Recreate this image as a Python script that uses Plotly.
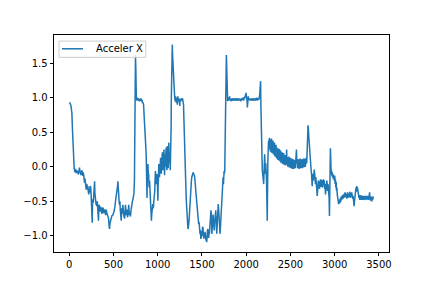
import plotly.graph_objects as go

# ---- data (sample index -> acceleration X) ----
x_start = [0, 10, 20, 30, 38, 44, 51, 56, 61, 66, 71, 79, 84, 89, 97, 102, 106, 111, 116, 121, 127, 132, 136, 141, 145, 150, 154, 158, 162, 168, 173, 178, 182, 187, 192, 197, 202, 206, 211, 216, 221, 226, 230, 236, 243, 248, 253, 257, 260, 263, 265, 269, 273, 278, 282, 287, 290, 294, 298, 301, 304, 308, 312, 317, 322, 327, 331, 334, 337, 342, 347, 352, 357, 362, 368, 375, 380, 385, 390, 395, 400, 405, 411, 418, 424, 430, 437, 445, 450, 456, 460, 464, 470, 475, 480, 484, 489, 493, 498, 503, 508, 512, 517, 521, 526, 532, 537, 542, 546, 550, 553, 556, 561, 565, 569, 573, 577, 582, 588, 592, 597, 601, 606, 611, 616, 621, 626, 631, 636, 641, 645, 650, 654, 659, 663, 668, 673, 677, 682, 687, 692, 697, 702, 706, 709, 714, 720, 725, 731]
y_start = [0.93, 0.92, 0.88, 0.78, 0.50, 0.20, 0.03, -0.02, -0.05, -0.08, -0.03, -0.09, -0.05, -0.07, -0.06, -0.11, -0.10, -0.06, -0.01, -0.07, -0.08, -0.12, -0.09, -0.05, -0.06, -0.11, -0.13, -0.08, -0.10, -0.18, -0.23, -0.17, -0.20, -0.27, -0.33, -0.25, -0.27, -0.33, -0.28, -0.36, -0.40, -0.32, -0.37, -0.28, -0.30, -0.42, -0.55, -0.70, -0.81, -0.55, -0.47, -0.52, -0.50, -0.35, -0.25, -0.21, -0.38, -0.45, -0.50, -0.45, -0.55, -0.52, -0.57, -0.50, -0.60, -0.70, -0.78, -0.62, -0.55, -0.57, -0.65, -0.62, -0.58, -0.60, -0.68, -0.66, -0.60, -0.60, -0.67, -0.65, -0.62, -0.63, -0.70, -0.62, -0.66, -0.70, -0.72, -0.75, -0.85, -0.90, -0.82, -0.80, -0.75, -0.73, -0.72, -0.70, -0.71, -0.68, -0.69, -0.66, -0.64, -0.62, -0.57, -0.52, -0.48, -0.42, -0.40, -0.35, -0.28, -0.21, -0.32, -0.40, -0.47, -0.52, -0.55, -0.50, -0.62, -0.70, -0.78, -0.62, -0.60, -0.68, -0.55, -0.62, -0.70, -0.72, -0.75, -0.65, -0.55, -0.65, -0.70, -0.62, -0.65, -0.73, -0.70, -0.62, -0.55, -0.66, -0.70, -0.65, -0.72, -0.64, -0.58, -0.62, -0.55, -0.50, -0.47, -0.42, -0.39]

x_peaks1 = [737, 741, 745, 749, 753, 758, 762, 766, 771, 775, 780, 785, 790, 795, 800, 805, 810, 815, 820, 824, 828, 832, 835, 840, 844, 848, 852, 855, 858, 861, 864, 867, 869, 871, 874, 876, 879, 881, 883, 886, 889, 892, 895, 898, 901, 904, 908, 912, 916, 920, 923, 926, 929, 933, 936, 940, 945, 948, 952, 956, 962, 965, 967, 970, 974, 977, 980, 984, 987, 991, 995, 998, 1002, 1005, 1008, 1010, 1012, 1016, 1020, 1023, 1025, 1029, 1033, 1037, 1041, 1045, 1048, 1051, 1053, 1056, 1058, 1062, 1065, 1068, 1071, 1074, 1078, 1081, 1083, 1087, 1090, 1093, 1096, 1100, 1104, 1107, 1109, 1112, 1114, 1117, 1119, 1123, 1126, 1129, 1132, 1136, 1139, 1142, 1146, 1149]
y_peaks1 = [-0.20, 0.40, 1.20, 1.62, 1.40, 1.02, 0.96, 0.99, 1.00, 0.96, 0.97, 0.99, 0.98, 0.95, 0.96, 0.99, 0.99, 0.96, 0.95, 0.97, 0.92, 0.94, 0.93, 0.90, 0.82, 0.75, 0.65, 0.61, 0.50, 0.45, 0.38, 0.33, 0.20, 0.10, -0.05, -0.20, -0.45, -0.25, -0.10, 0.02, 0.04, -0.05, -0.15, -0.10, -0.25, -0.30, -0.20, -0.35, -0.50, -0.55, -0.63, -0.70, -0.78, -0.68, -0.65, -0.60, -0.54, -0.60, -0.58, -0.50, -0.40, -0.45, -0.35, -0.20, -0.06, -0.15, -0.25, -0.12, -0.10, -0.18, -0.11, -0.30, -0.49, -0.25, -0.20, -0.05, 0.04, -0.10, -0.15, -0.02, -0.05, 0.08, 0.13, -0.02, -0.10, 0.05, 0.15, 0.05, 0.21, 0.00, -0.05, 0.12, 0.10, 0.20, 0.25, 0.05, -0.12, 0.10, 0.18, 0.02, 0.00, 0.22, 0.28, 0.05, -0.05, 0.15, 0.30, 0.12, 0.10, -0.02, 0.00, 0.25, 0.35, 0.10, 0.05, 0.20, 0.15, -0.05, 0.10, 0.20]

x_peaks2 = [1152, 1154, 1157, 1159, 1162, 1165, 1168, 1171, 1174, 1177, 1181, 1185, 1188, 1190, 1194, 1197, 1201, 1205, 1208, 1210, 1213, 1215, 1219, 1222, 1225, 1228, 1232, 1235, 1239, 1243, 1247, 1250, 1253, 1255, 1259, 1262, 1266, 1269, 1272, 1276, 1280, 1284, 1288, 1292, 1296, 1299, 1302, 1306, 1310, 1314, 1318, 1322, 1326, 1330, 1334, 1338, 1342, 1346, 1350, 1354, 1358, 1362, 1366, 1370, 1375, 1380, 1385, 1390, 1396, 1402, 1408, 1413, 1418, 1423, 1428, 1433, 1438, 1443, 1448, 1453, 1458, 1463, 1468, 1473, 1478, 1483, 1487, 1491, 1493, 1497, 1502, 1506, 1511, 1515, 1519, 1523, 1527, 1531, 1535, 1539, 1543, 1546, 1550, 1554, 1558, 1562, 1566, 1568, 1572, 1576, 1580, 1584, 1587, 1591, 1595, 1598, 1602, 1606, 1609, 1612, 1615, 1618, 1622, 1626, 1629, 1632, 1636, 1640, 1644, 1648, 1652, 1656, 1660, 1664, 1668, 1672, 1676, 1680, 1684, 1688, 1692, 1696, 1700, 1704, 1708, 1712, 1716, 1720, 1724, 1727, 1731, 1735, 1739, 1743, 1747, 1750, 1754, 1758]
y_peaks2 = [0.60, 1.00, 1.30, 1.58, 1.70, 1.77, 1.62, 1.50, 1.40, 1.29, 1.20, 1.15, 1.05, 1.05, 0.98, 0.95, 1.02, 1.00, 0.94, 0.93, 1.00, 0.98, 0.95, 0.90, 0.97, 1.02, 0.96, 0.95, 0.99, 0.97, 0.93, 0.88, 0.97, 0.98, 0.95, 0.95, 0.99, 0.97, 0.96, 0.98, 0.99, 0.96, 0.98, 0.90, 0.70, 0.50, 0.33, 0.15, 0.00, -0.15, -0.30, -0.45, -0.55, -0.70, -0.80, -0.87, -0.90, -0.88, -0.85, -0.78, -0.70, -0.58, -0.50, -0.39, -0.30, -0.22, -0.15, -0.12, -0.10, -0.08, -0.11, -0.12, -0.15, -0.20, -0.30, -0.39, -0.48, -0.55, -0.63, -0.70, -0.75, -0.83, -0.80, -0.90, -0.97, -0.92, -1.04, -0.95, -1.02, -0.93, -1.00, -0.88, -0.87, -0.95, -0.98, -1.04, -0.96, -1.02, -0.94, -1.00, -1.05, -1.07, -1.00, -1.09, -1.02, -0.92, -0.96, -0.90, -0.98, -1.03, -0.95, -0.97, -0.92, -0.85, -0.75, -0.70, -0.63, -0.68, -0.80, -0.97, -0.90, -0.85, -0.78, -0.69, -0.75, -0.82, -0.88, -0.92, -0.80, -0.72, -0.65, -0.63, -0.75, -0.88, -0.97, -0.85, -0.70, -0.60, -0.54, -0.60, -0.75, -0.85, -0.92, -0.97, -0.90, -0.80, -0.73, -0.65, -0.50, -0.30, -0.35, -0.20, -0.15, -0.25, -0.12, -0.06, -0.10, -0.05]

x_plateau = [1762, 1766, 1769, 1772, 1776, 1779, 1783, 1787, 1790, 1794, 1798, 1803, 1808, 1813, 1818, 1823, 1828, 1833, 1838, 1843, 1848, 1853, 1858, 1863, 1868, 1873, 1878, 1883, 1888, 1893, 1898, 1903, 1908, 1913, 1918, 1923, 1928, 1933, 1938, 1943, 1948, 1953, 1958, 1963, 1968, 1973, 1978, 1983, 1988, 1993, 1998, 2002, 2006, 2010, 2013, 2016, 2020, 2024, 2028, 2033, 2038, 2043, 2048, 2053, 2058, 2063, 2068, 2073, 2078, 2083, 2088, 2093, 2098, 2103, 2108, 2113, 2118, 2123, 2128, 2133, 2138, 2143, 2148, 2153, 2158, 2163]
y_plateau = [0.30, 0.70, 0.95, 1.30, 1.62, 1.50, 1.29, 1.05, 0.95, 0.98, 1.00, 0.96, 0.99, 1.02, 0.97, 0.98, 0.95, 0.97, 0.99, 0.96, 0.98, 0.97, 0.99, 0.96, 0.98, 0.97, 0.99, 0.96, 0.98, 0.97, 0.99, 0.96, 0.98, 0.97, 0.99, 0.96, 0.98, 0.97, 0.95, 0.99, 0.96, 0.98, 0.97, 1.00, 0.98, 0.96, 1.01, 0.99, 1.03, 1.02, 1.07, 1.04, 1.00, 0.95, 0.86, 0.96, 1.00, 1.02, 0.98, 0.97, 0.99, 0.96, 0.98, 0.97, 0.99, 0.96, 0.98, 0.97, 0.99, 0.96, 0.98, 0.97, 0.99, 0.96, 0.98, 0.97, 1.00, 0.96, 0.98, 0.97, 0.99, 0.97, 1.00, 1.05, 1.15, 1.24]

x_drop = [2166, 2170, 2174, 2178, 2182, 2186, 2190, 2194, 2198, 2202, 2206, 2209, 2213, 2217, 2221, 2226, 2230, 2234, 2238, 2241, 2245]
y_drop = [0.90, 0.52, 0.30, 0.10, -0.05, -0.10, -0.15, -0.22, -0.25, -0.05, 0.10, 0.18, 0.00, -0.10, 0.05, -0.05, -0.20, -0.50, -0.78, -0.40, 0.10]

x_band = [2249, 2253, 2258, 2262, 2266, 2270, 2274, 2278, 2282, 2286,
          2290, 2294, 2298, 2303, 2307, 2311, 2315, 2320, 2324, 2328,
          2333, 2337, 2342, 2346, 2350, 2355, 2359, 2363, 2368, 2372,
          2376, 2380, 2384, 2389, 2393, 2397, 2402, 2406, 2410, 2414,
          2418, 2423, 2427, 2431, 2436, 2440, 2444, 2448, 2453, 2457,
          2461, 2466, 2470, 2474, 2478, 2483, 2487, 2492, 2496, 2500,
          2505, 2509, 2513, 2517, 2522, 2526, 2530, 2535, 2539, 2543,
          2547, 2552, 2556, 2560, 2564, 2568, 2572, 2577, 2581, 2585,
          2590, 2594, 2598, 2602, 2607, 2611, 2615, 2620, 2624, 2628,
          2633, 2637, 2641, 2645, 2650, 2654, 2658, 2662, 2667, 2671,
          2675, 2680, 2684]
y_band = [0.20, 0.38, 0.25, 0.42, 0.30, 0.40, 0.22, 0.38, 0.28, 0.41,
          0.20, 0.36, 0.24, 0.38, 0.18, 0.33, 0.22, 0.35, 0.15, 0.30,
          0.20, 0.32, 0.12, 0.28, 0.18, 0.27, 0.10, 0.25, 0.14, 0.26,
          0.08, 0.22, 0.12, 0.24, 0.06, 0.20, 0.10, 0.21, 0.04, 0.18,
          0.08, 0.20, 0.03, 0.16, 0.06, 0.17, 0.02, 0.15, 0.05, 0.25,
          0.03, 0.14, 0.00, 0.13, 0.04, 0.15, -0.01, 0.12, 0.03, 0.13,
          -0.02, 0.10, 0.01, 0.12, -0.03, 0.10, 0.00, 0.11, -0.03, 0.09,
          0.01, 0.10, -0.02, 0.08, 0.15, 0.25, 0.05, 0.11, -0.02, 0.09,
          0.00, 0.11, -0.03, 0.09, 0.01, 0.12, -0.02, 0.10, 0.00, 0.11,
          -0.02, 0.09, 0.01, 0.12, -0.01, 0.10, 0.02, 0.12, 0.00, 0.11,
          0.03, 0.13, 0.05]

x_tail2 = [2688, 2692, 2696, 2699, 2703, 2707, 2711, 2715, 2718, 2722, 2726, 2730, 2734, 2738, 2742, 2746, 2750, 2754, 2758, 2762, 2766, 2770, 2775, 2779, 2783, 2787, 2791, 2795, 2799, 2803, 2807, 2811, 2815, 2819, 2823, 2828, 2832, 2836, 2840, 2845, 2849, 2853, 2857, 2862, 2866, 2870, 2874, 2879, 2883, 2887, 2891, 2896, 2900, 2904, 2908, 2912, 2917, 2921, 2925, 2929, 2933, 2937, 2941, 2944, 2948, 2952, 2956, 2960, 2964, 2968, 2972, 2976, 2980, 2984, 2988, 2993, 2997, 3001, 3005, 3009, 3013, 3017, 3021, 3025, 3029, 3033, 3037]
y_tail2 = [0.15, 0.35, 0.50, 0.60, 0.55, 0.45, 0.35, 0.30, 0.35, 0.20, 0.10, 0.06, -0.05, -0.10, -0.20, -0.28, -0.15, -0.10, -0.20, -0.05, -0.15, -0.04, -0.12, -0.22, -0.25, -0.15, -0.30, -0.25, -0.35, -0.42, -0.30, -0.25, -0.20, -0.30, -0.21, -0.32, -0.20, -0.28, -0.18, -0.29, -0.20, -0.27, -0.19, -0.30, -0.21, -0.28, -0.18, -0.27, -0.20, -0.32, -0.25, -0.40, -0.30, -0.22, -0.29, -0.20, -0.30, -0.35, -0.25, -0.30, -0.37, -0.45, -0.71, -0.40, 0.05, 0.27, 0.10, -0.10, -0.05, -0.13, -0.08, -0.15, -0.10, -0.18, -0.12, -0.15, -0.20, -0.13, -0.25, -0.18, -0.30, -0.22, -0.35, -0.30, -0.40, -0.45, -0.52]

x_end = [3041, 3045, 3049, 3053, 3058, 3062, 3066, 3070, 3074, 3078, 3082, 3087, 3091, 3095, 3099, 3103, 3108, 3112, 3116, 3120, 3124, 3129, 3133, 3137, 3141, 3145, 3150, 3154, 3158, 3162, 3166, 3171, 3175, 3179, 3183, 3187, 3192, 3196, 3200, 3204, 3208, 3212, 3216, 3220, 3224, 3228, 3233, 3237, 3241, 3245, 3249, 3254, 3258, 3262, 3266, 3270, 3274, 3278, 3283, 3287, 3291, 3295, 3299, 3304, 3308, 3312, 3316, 3320, 3325, 3329, 3333, 3337, 3341, 3346, 3350, 3354, 3358, 3362, 3367, 3371, 3375, 3379, 3383, 3387, 3391, 3395, 3399, 3404, 3408, 3412, 3416, 3420, 3424, 3428, 3432, 3437]
y_end = [-0.48, -0.54, -0.50, -0.53, -0.47, -0.52, -0.45, -0.50, -0.43, -0.48, -0.42, -0.47, -0.41, -0.46, -0.40, -0.45, -0.39, -0.44, -0.37, -0.43, -0.38, -0.44, -0.39, -0.46, -0.40, -0.37, -0.45, -0.39, -0.44, -0.37, -0.43, -0.36, -0.42, -0.45, -0.38, -0.43, -0.37, -0.44, -0.39, -0.46, -0.42, -0.48, -0.52, -0.57, -0.50, -0.45, -0.38, -0.33, -0.30, -0.36, -0.28, -0.34, -0.30, -0.37, -0.33, -0.41, -0.45, -0.41, -0.48, -0.42, -0.47, -0.41, -0.48, -0.42, -0.47, -0.43, -0.48, -0.42, -0.47, -0.43, -0.48, -0.42, -0.47, -0.43, -0.47, -0.42, -0.48, -0.43, -0.47, -0.42, -0.47, -0.43, -0.48, -0.41, -0.39, -0.37, -0.44, -0.49, -0.44, -0.48, -0.43, -0.50, -0.44, -0.48, -0.43, -0.46]

series_name = "Acceler X"
x_tick_vals = [0, 500, 1000, 1500, 2000, 2500, 3000, 3500]
y_tick_vals = [-1.0, -0.5, 0.0, 0.5, 1.0, 1.5]

xs = x_start + x_peaks1 + x_peaks2 + x_plateau + x_drop + x_band + x_tail2 + x_end
ys = y_start + y_peaks1 + y_peaks2 + y_plateau + y_drop + y_band + y_tail2 + y_end
n = min(len(xs), len(ys))
xs, ys = xs[:n], ys[:n]

BLUE = "#1f77b4"
FONT = "DejaVu Sans"

fig = go.Figure()
fig.add_trace(go.Scatter(x=xs, y=ys, mode="lines", name=series_name,
                         line=dict(color=BLUE, width=1.5), showlegend=False))

axis_common = dict(showline=True, mirror=True, linecolor="black", linewidth=0.8,
                   ticks="outside", ticklen=3.5, tickwidth=0.8, tickcolor="black",
                   showgrid=False, zeroline=False,
                   tickfont=dict(family=FONT, size=10, color="black"))

fig.update_layout(
    width=432, height=288, autosize=False,
    margin=dict(l=54, r=43, t=35, b=36, pad=0),
    paper_bgcolor="white", plot_bgcolor="white",
    font=dict(family=FONT, size=10, color="black"),
    xaxis=dict(range=[-172, 3614], tickvals=x_tick_vals, **axis_common),
    yaxis=dict(range=[-1.233, 1.908], tickvals=y_tick_vals, tickformat=".1f", **axis_common),
)

# legend drawn like matplotlib's (box, short line sample, label)
fig.add_shape(type="rect", xref="paper", yref="paper", x0=0.0149, x1=0.274, y0=0.897, y1=0.972,
              line=dict(color="#cccccc", width=1), fillcolor="rgba(255,255,255,0.8)", layer="above")
fig.add_shape(type="line", xref="paper", yref="paper", x0=0.0239, x1=0.0866, y0=0.9365, y1=0.9365,
              line=dict(color=BLUE, width=1.5), layer="above")
fig.add_annotation(xref="paper", yref="paper", x=0.1186, y=0.9365, xanchor="left", yanchor="middle",
                   text=series_name, showarrow=False, font=dict(family=FONT, size=10, color="black"))

fig.write_html("out.html")
